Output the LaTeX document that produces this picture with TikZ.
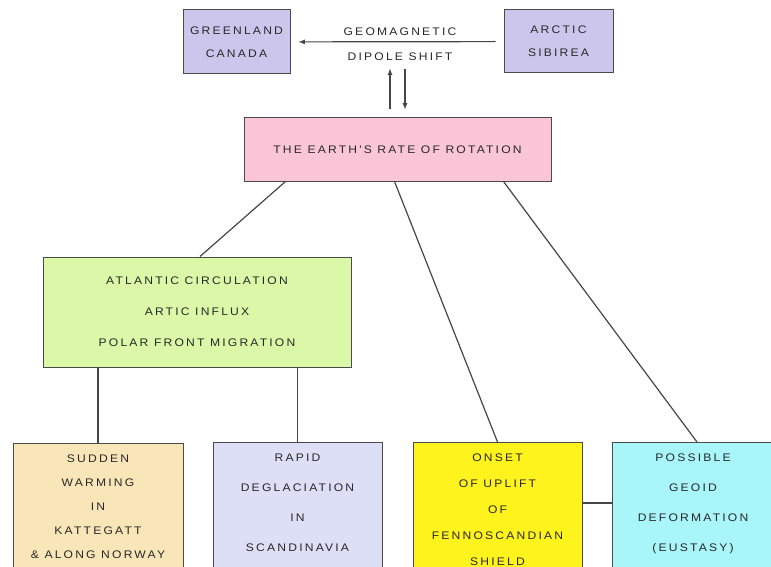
\documentclass[tikz,border=0pt]{standalone}
\usepackage{fontspec}
\usepackage{xcolor}
\usepackage{tikz}
\usetikzlibrary{arrows,positioning}

\newfontfamily\leroy[LetterSpace=20,FakeStretch=1.1]{Liberation Sans}

\definecolor{dipolefill}{RGB}{205,198,236}
\definecolor{rotfill}{RGB}{250,197,214}
\definecolor{oceanfill}{RGB}{218,248,168}
\definecolor{warmfill}{RGB}{248,230,185}
\definecolor{icefill}{RGB}{220,223,246}
\definecolor{upliftfill}{RGB}{255,243,30}
\definecolor{geoidfill}{RGB}{168,245,250}
\definecolor{boxline}{RGB}{75,75,75}
\definecolor{wiregray}{RGB}{70,70,70}
\definecolor{inkgray}{RGB}{40,40,40}

\begin{document}
\begin{tikzpicture}[x=1pt,y=-1pt,
    rows/.style={font=\leroy\fontsize{11}{#1}\selectfont},
    box/.style={draw=boxline, line width=1pt, inner sep=0pt, align=center, text=inkgray, rows=13},
    lowbox/.style={box, anchor=north, inner xsep=0pt, inner ysep=11pt, text depth=100pt},
    wire/.style={draw=wiregray, line width=1.2pt}]
    \clip (0,0) rectangle (771,567);

    % Top row: the dipole shift
    \node[box, fill=dipolefill, minimum width=107pt, minimum height=64pt, rows=23] (greenland) at (236.5,42) {GREENLAND\\CANADA};
    \node[box, fill=dipolefill, minimum width=109pt, minimum height=63pt, rows=23] (arctic) at (558.5,41.5) {ARCTIC\\SIBIREA};
    \node[align=center, inner sep=0pt, text=inkgray, rows=25] (shift) at (400,44) {GEOMAGNETIC\\DIPOLE SHIFT};

    % Rotation
    \node[box, fill=rotfill, minimum width=307pt, minimum height=63pt] (earth) at (397.5,149.5) {THE EARTH'S RATE OF ROTATION};

    % Ocean
    \node[box, fill=oceanfill, minimum width=308pt, minimum height=110pt, rows=31] (atlantic) at (197,312) {ATLANTIC CIRCULATION\\ARTIC INFLUX\\POLAR FRONT MIGRATION};

    % Bottom row
    \node[lowbox, fill=warmfill, minimum width=170pt, rows=24] (sudden) at (98,443) {SUDDEN\\WARMING\\IN\\KATTEGATT\\\& ALONG NORWAY};
    \node[lowbox, fill=icefill, minimum width=169pt, rows=30] (rapid) at (297.5,442) {RAPID\\DEGLACIATION\\IN\\SCANDINAVIA};
    \node[lowbox, fill=upliftfill, minimum width=169pt, rows=26] (onset) at (497.5,442) {ONSET\\OF UPLIFT\\OF\\FENNOSCANDIAN\\SHIELD};
    \node[lowbox, fill=geoidfill, minimum width=162pt, rows=30] (possible) at (693,442) {POSSIBLE\\GEOID\\DEFORMATION\\(EUSTASY)};

    % Arrows
    \draw[wire, -latex, shorten <=8pt, shorten >=8pt] (arctic) -- (greenland);
    \draw[wire, -latex, shorten <=8pt, shorten >=8pt] ([xshift=-7.5pt]earth.north) -- ([xshift=-7.5pt]earth.north |- shift.south);
    \draw[wire, -latex, shorten <=8pt, shorten >=8pt] ([xshift=7.5pt]earth.north |- shift.south) -- ([xshift=7.5pt]earth.north);

    % Connecting lines
    \draw[wire] ([xshift=42pt]earth.south west) -- ([xshift=3pt]atlantic.north);
    \draw[wire] ([xshift=151pt]earth.south west) -- (onset.north);
    \draw[wire] ([xshift=260pt]earth.south west) -- ([xshift=4pt]possible.north);
    \draw[wire] (sudden.north) -- (sudden.north |- atlantic.south);
    \draw[wire] (rapid.north) -- (rapid.north |- atlantic.south);
    \draw[wire] ([yshift=-61pt]onset.north east) -- ([yshift=-61pt]possible.north west);
\end{tikzpicture}
\end{document}
